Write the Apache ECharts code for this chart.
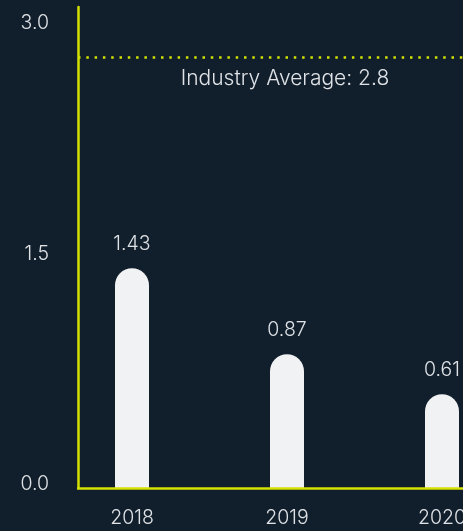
<!DOCTYPE html>
<html>
<head>
<meta charset="utf-8">
<script src="https://cdn.jsdelivr.net/npm/echarts@6/dist/echarts.min.js"></script>
<style>
html,body{margin:0;padding:0;background:#111f2c;}
#chart{width:463px;height:531px;}
</style>
</head>
<body>
<div id="chart"></div>
<script>
const categories = ['2018', '2019', '2020'];
const values = [1.43, 0.87, 0.61];
const industryAverage = 2.8;
const yTicks = [0, 1.5, 3.0];

const FONT = 'Inter';
const TEXT = '#dfe2e6';
const ACCENT = '#d3e200';

const chart = echarts.init(document.getElementById('chart'), null, {renderer: 'canvas'});
chart.setOption({
  backgroundColor: '#111f2c',
  animation: false,
  grid: {left: 54.5, width: 465, top: 7, bottom: 43, containLabel: false, outerBoundsMode: 'none'},
  xAxis: {
    type: 'category',
    data: categories,
    axisLine: {show: false},
    axisTick: {show: false},
    axisLabel: {color: TEXT, fontFamily: FONT, fontSize: 19.5, fontWeight: 300, margin: 20}
  },
  yAxis: {
    type: 'value',
    min: 0,
    max: 3.13,
    interval: 1.5,
    offset: -23.5,
    splitLine: {show: false},
    axisTick: {show: false},
    axisLine: {show: true, lineStyle: {color: ACCENT, width: 2.5}},
    axisLabel: {
      color: TEXT, fontFamily: FONT, fontSize: 19.5, fontWeight: 300, margin: 29,
      verticalAlign: 'bottom', lineHeight: 7,
      formatter: function (v) {
        for (const t of yTicks) { if (Math.abs(v - t) < 1e-6) return t.toFixed(1); }
        return '';
      }
    }
  },
  series: [{
    type: 'bar',
    data: values,
    barWidth: 34,
    itemStyle: {color: '#f1f2f4', borderRadius: [17, 17, 0, 0]},
    label: {
      show: true, position: 'top', distance: 14,
      color: TEXT, fontFamily: FONT, fontSize: 19.5, fontWeight: 300,
      formatter: function (p) { return p.value.toFixed(2); }
    },
    markLine: {
      silent: true,
      symbol: 'none',
      animation: false,
      data: [
        [
          {coord: [0, industryAverage], x: 78,
           lineStyle: {color: ACCENT, width: 2.5, type: [2.5, 5.8], cap: 'butt'},
           label: {show: true, position: 'insideMiddleBottom', distance: 10,
                   color: TEXT, fontFamily: FONT, fontSize: 21, fontWeight: 300,
                   formatter: 'Industry Average: ' + industryAverage}},
          {coord: [2, industryAverage], x: 492}
        ],
        [
          {coord: [0, 0], x: 77,
           lineStyle: {color: ACCENT, width: 2.5, type: 'solid'},
           label: {show: false}},
          {coord: [2, 0], x: 500}
        ]
      ]
    }
  }]
});
</script>
</body>
</html>
